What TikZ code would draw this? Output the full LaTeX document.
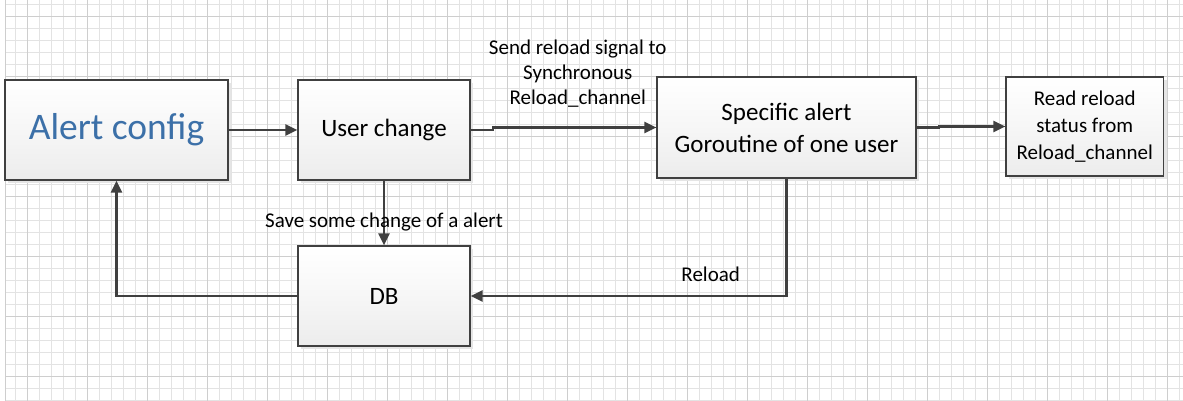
\documentclass[tikz,border=0pt]{standalone}
\usepackage{fontspec}
\setmainfont{Carlito}
\usepackage{tikz}
\usetikzlibrary{arrows.meta,shadows}
\definecolor{gridminor}{HTML}{E3E3E3}
\definecolor{gridmajor}{HTML}{CECECE}
\definecolor{edgegray}{HTML}{404040}
\definecolor{cfgblue}{HTML}{3C70A8}
\definecolor{boxbot}{HTML}{ECECEC}

\begin{document}
\begin{tikzpicture}[x=1pt, y=-1pt,
  block/.style={draw=edgegray, line width=1.2pt, top color=white, bottom color=boxbot,
    middle color=white!55!boxbot,
    inner sep=0pt, align=center, font=\fontsize{25}{32}\selectfont,
    drop shadow={shadow xshift=3pt, shadow yshift=-3pt, fill=black!10, opacity=1}},
  link/.style={draw=edgegray, line width=2.2pt, -{Triangle[length=12pt,width=11pt]}},
  lbl/.style={font=\fontsize{21}{25}\selectfont, align=center, inner sep=0pt}]
  \useasboundingbox (0,0) rectangle (1183,401);

  % Grid paper
  \foreach \gx in {15,27,...,1179}
    \draw[gridminor, line width=0.8pt] (\gx,0) -- (\gx,401);
  \foreach \gy in {4,16,...,400}
    \draw[gridminor, line width=0.8pt] (5,\gy) -- (1183,\gy);
  \foreach \gx in {27,87,...,1167}
    \draw[gridmajor, line width=0.8pt] (\gx,0) -- (\gx,401);
  \foreach \gy in {16,76,...,376}
    \draw[gridmajor, line width=0.8pt] (5,\gy) -- (1183,\gy);
  \draw[gridmajor, line width=1pt] (5,0) -- (5,401);

  % Blocks
  \node[block, minimum width=223pt, minimum height=100pt, text=cfgblue,
    font=\fontsize{37.5}{40}\selectfont] (cfg) at (116.5,130) {Alert config};
  \node[block, minimum width=172pt, minimum height=100pt] (usr) at (384,130) {User change};
  \node[block, minimum width=259pt, minimum height=101pt] (spec) at (786.5,127.5)
    {Specific alert\\Goroutine of one user};
  \node[block, minimum width=157.5pt, minimum height=99pt,
    font=\fontsize{21}{27}\selectfont] (read) at (1084.75,126.5)
    {Read reload\\status from\\Reload\_channel};
  \node[block, minimum width=172pt, minimum height=100pt] (db) at (384,296) {DB};

  % Connections
  \draw[link] (cfg.east) -- (usr.west);
  \draw[link] (usr.east) -- ++(22,0) |- (spec.west)
    node[lbl, pos=0.76, anchor=base, yshift=23pt]
    {Send reload signal to\\Synchronous\\Reload\_channel};
  \draw[link] (spec.east) -- ++(22,0) |- (read.west);
  \draw[link] (usr.south) -- (db.north)
    node[lbl, pos=0.73, anchor=base] {Save some change of a alert};
  \draw[link] (spec.south) |- (db.east)
    node[lbl, pos=0.62, anchor=base, yshift=14.3pt] {Reload};
  \draw[link] (db.west) -| (cfg.south);
\end{tikzpicture}
\end{document}
